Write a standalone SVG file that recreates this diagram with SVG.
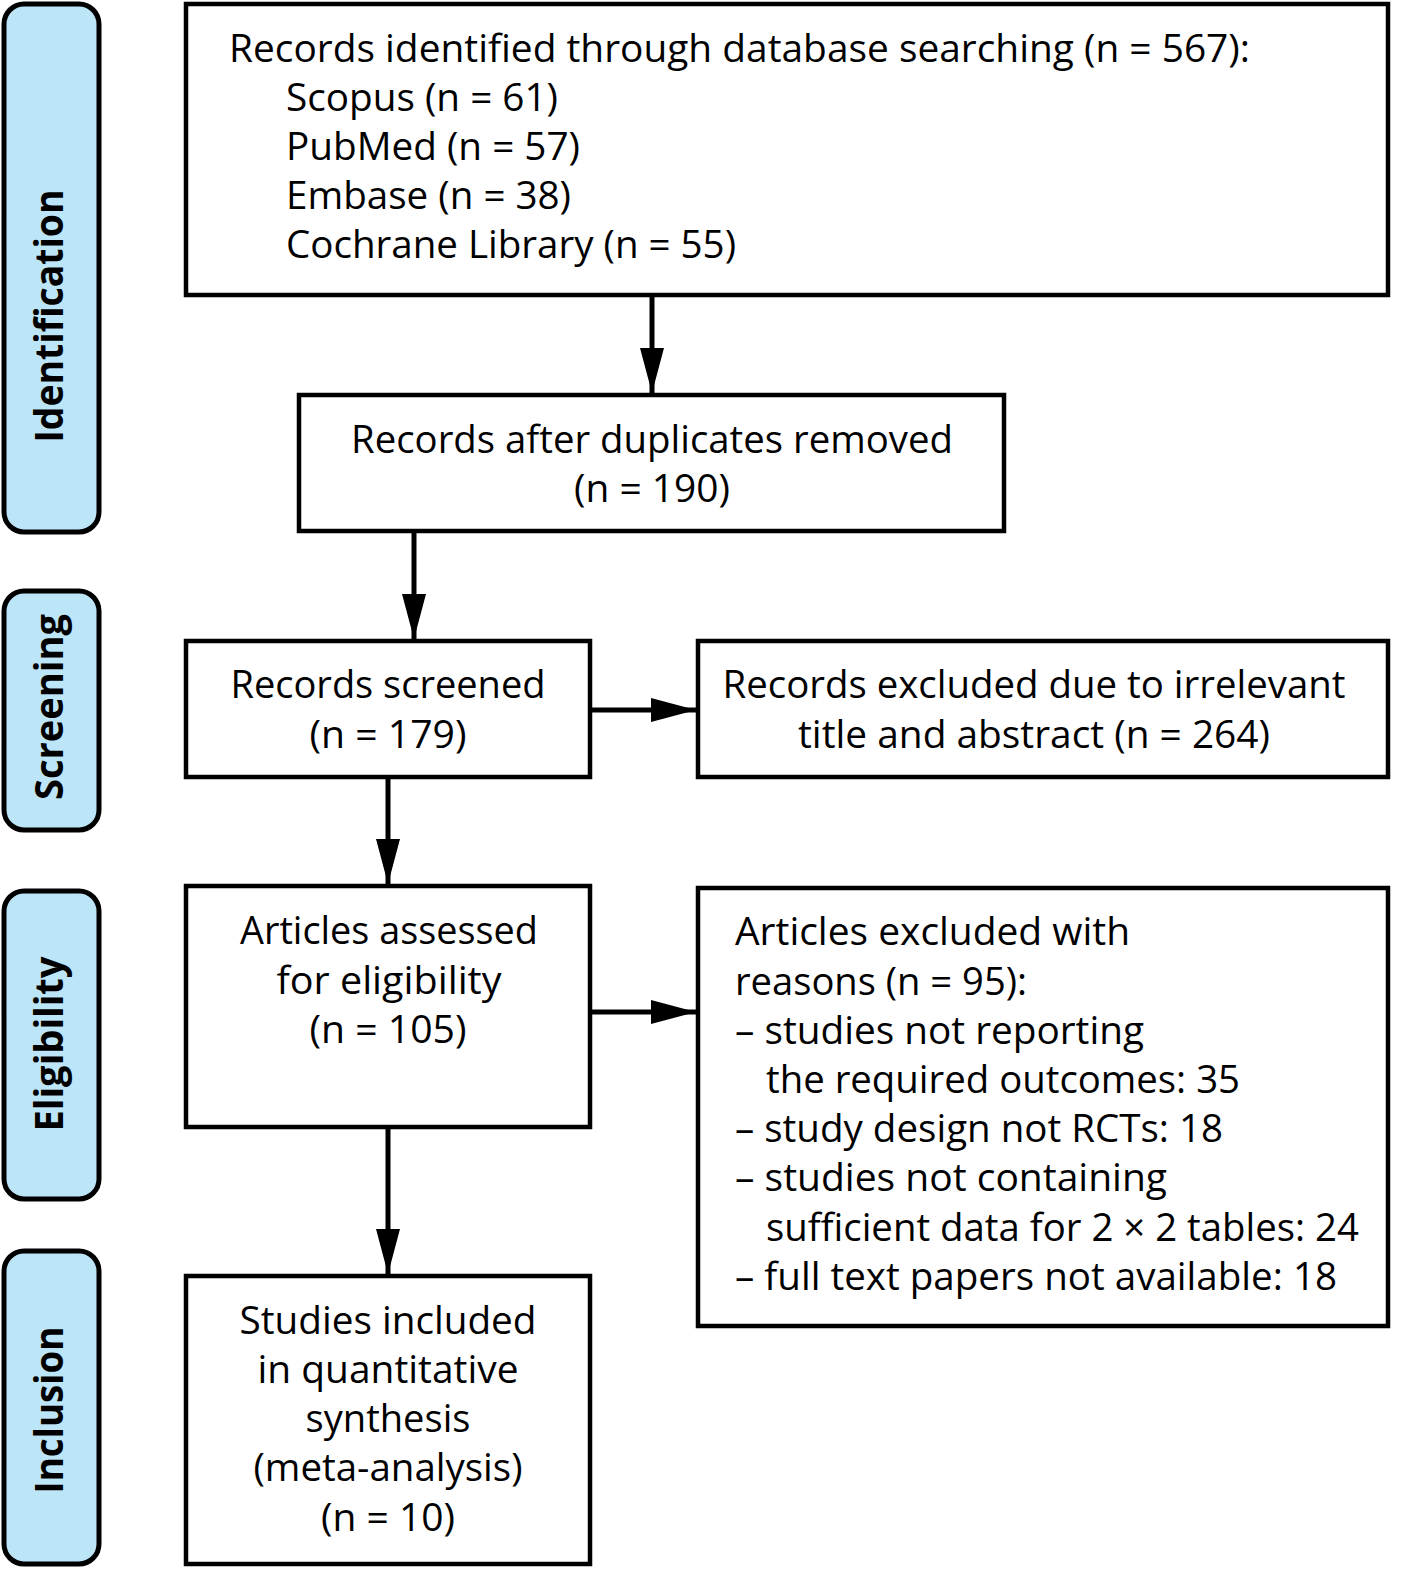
<svg xmlns="http://www.w3.org/2000/svg" width="1402" height="1580" viewBox="0 0 1402 1580">
<style>
.side{fill:#bde5f8;stroke:#000;stroke-width:5}
.box{fill:#fff;stroke:#000;stroke-width:4.5}
.t{font-family:"Open Sans","Noto Sans","Liberation Sans",sans-serif;font-size:39px;fill:#000}
.s{font-family:"Open Sans","Noto Sans","Liberation Sans",sans-serif;font-size:39px;font-weight:bold;fill:#000}
.c{text-anchor:middle}
.e{stroke:#000;stroke-width:5;fill:none}
</style>
<defs>
<marker id="ah" markerUnits="userSpaceOnUse" markerWidth="46" markerHeight="26" refX="45" refY="12" orient="auto">
<path d="M0,0 L45,12 L0,24 z" fill="#000"/>
</marker>
</defs>
<rect width="1402" height="1580" fill="#fff"/>
<g id="lbl-identification"><rect class="side" x="4" y="4" width="95" height="528" rx="20"/><text class="s c" transform="translate(63,316) rotate(-90)" textLength="253" lengthAdjust="spacingAndGlyphs">Identification</text></g>
<g id="lbl-screening"><rect class="side" x="4" y="591" width="95" height="239" rx="20"/><text class="s c" transform="translate(63,707) rotate(-90)" textLength="186" lengthAdjust="spacingAndGlyphs">Screening</text></g>
<g id="lbl-eligibility"><rect class="side" x="4" y="891" width="95" height="308" rx="20"/><text class="s c" transform="translate(63,1044) rotate(-90)" textLength="175" lengthAdjust="spacingAndGlyphs">Eligibility</text></g>
<g id="lbl-inclusion"><rect class="side" x="4" y="1251" width="95" height="313" rx="20"/><text class="s c" transform="translate(63,1410) rotate(-90)" textLength="167" lengthAdjust="spacingAndGlyphs">Inclusion</text></g>

<g id="identified"><rect class="box" x="186" y="4" width="1202" height="291"/>
<text class="t" x="229" y="62" textLength="1021" lengthAdjust="spacingAndGlyphs">Records identified through database searching (n = 567):</text>
<text class="t" x="286" y="111" textLength="272" lengthAdjust="spacingAndGlyphs">Scopus (n = 61)</text>
<text class="t" x="286" y="160" textLength="294" lengthAdjust="spacingAndGlyphs">PubMed (n = 57)</text>
<text class="t" x="286" y="209" textLength="285" lengthAdjust="spacingAndGlyphs">Embase (n = 38)</text>
<text class="t" x="286" y="258" textLength="450" lengthAdjust="spacingAndGlyphs">Cochrane Library (n = 55)</text>
</g>
<g id="dedup"><rect class="box" x="299" y="395" width="705" height="136"/>
<text class="t c" x="652" y="453" textLength="602" lengthAdjust="spacingAndGlyphs">Records after duplicates removed</text>
<text class="t c" x="652" y="502" textLength="156" lengthAdjust="spacingAndGlyphs">(n = 190)</text>
</g>
<g id="screened"><rect class="box" x="186" y="641" width="404" height="136"/>
<text class="t c" x="388" y="698" textLength="315" lengthAdjust="spacingAndGlyphs">Records screened</text>
<text class="t c" x="388" y="748" textLength="157" lengthAdjust="spacingAndGlyphs">(n = 179)</text>
</g>
<g id="excluded-screen"><rect class="box" x="698" y="641" width="690" height="136"/>
<text class="t c" x="1034" y="698" textLength="623" lengthAdjust="spacingAndGlyphs">Records excluded due to irrelevant</text>
<text class="t c" x="1034" y="748" textLength="472" lengthAdjust="spacingAndGlyphs">title and abstract (n = 264)</text>
</g>
<g id="assessed"><rect class="box" x="186" y="886" width="404" height="241"/>
<text class="t c" x="389" y="944" textLength="298" lengthAdjust="spacingAndGlyphs">Articles assessed</text>
<text class="t c" x="389" y="994" textLength="225" lengthAdjust="spacingAndGlyphs">for eligibility</text>
<text class="t c" x="388" y="1043" textLength="157" lengthAdjust="spacingAndGlyphs">(n = 105)</text>
</g>
<g id="excluded-full"><rect class="box" x="698" y="888" width="690" height="438"/>
<text class="t" x="735" y="945" textLength="395" lengthAdjust="spacingAndGlyphs">Articles excluded with</text>
<text class="t" x="735" y="995" textLength="292" lengthAdjust="spacingAndGlyphs">reasons (n = 95):</text>
<text class="t" x="735" y="1044" textLength="409" lengthAdjust="spacingAndGlyphs">– studies not reporting</text>
<text class="t" x="766" y="1093" textLength="474" lengthAdjust="spacingAndGlyphs">the required outcomes: 35</text>
<text class="t" x="735" y="1142" textLength="488" lengthAdjust="spacingAndGlyphs">– study design not RCTs: 18</text>
<text class="t" x="735" y="1191" textLength="432" lengthAdjust="spacingAndGlyphs">– studies not containing</text>
<text class="t" x="766" y="1241" textLength="593" lengthAdjust="spacingAndGlyphs">sufficient data for 2 × 2 tables: 24</text>
<text class="t" x="735" y="1290" textLength="602" lengthAdjust="spacingAndGlyphs">– full text papers not available: 18</text>
</g>
<g id="included"><rect class="box" x="186" y="1276" width="404" height="288"/>
<text class="t c" x="388" y="1334" textLength="297" lengthAdjust="spacingAndGlyphs">Studies included</text>
<text class="t c" x="388" y="1383" textLength="261" lengthAdjust="spacingAndGlyphs">in quantitative</text>
<text class="t c" x="388" y="1432" textLength="165" lengthAdjust="spacingAndGlyphs">synthesis</text>
<text class="t c" x="388" y="1481" textLength="269" lengthAdjust="spacingAndGlyphs">(meta-analysis)</text>
<text class="t c" x="388" y="1531" textLength="134" lengthAdjust="spacingAndGlyphs">(n = 10)</text>
</g>

<g id="connectors">
<line class="e" x1="652" y1="297" x2="652" y2="393" marker-end="url(#ah)"/>
<line class="e" x1="414" y1="533" x2="414" y2="639" marker-end="url(#ah)"/>
<line class="e" x1="388" y1="779" x2="388" y2="884" marker-end="url(#ah)"/>
<line class="e" x1="388" y1="1129" x2="388" y2="1274" marker-end="url(#ah)"/>
<line class="e" x1="592" y1="710" x2="696" y2="710" marker-end="url(#ah)"/>
<line class="e" x1="592" y1="1012" x2="696" y2="1012" marker-end="url(#ah)"/>
</g>
</svg>
